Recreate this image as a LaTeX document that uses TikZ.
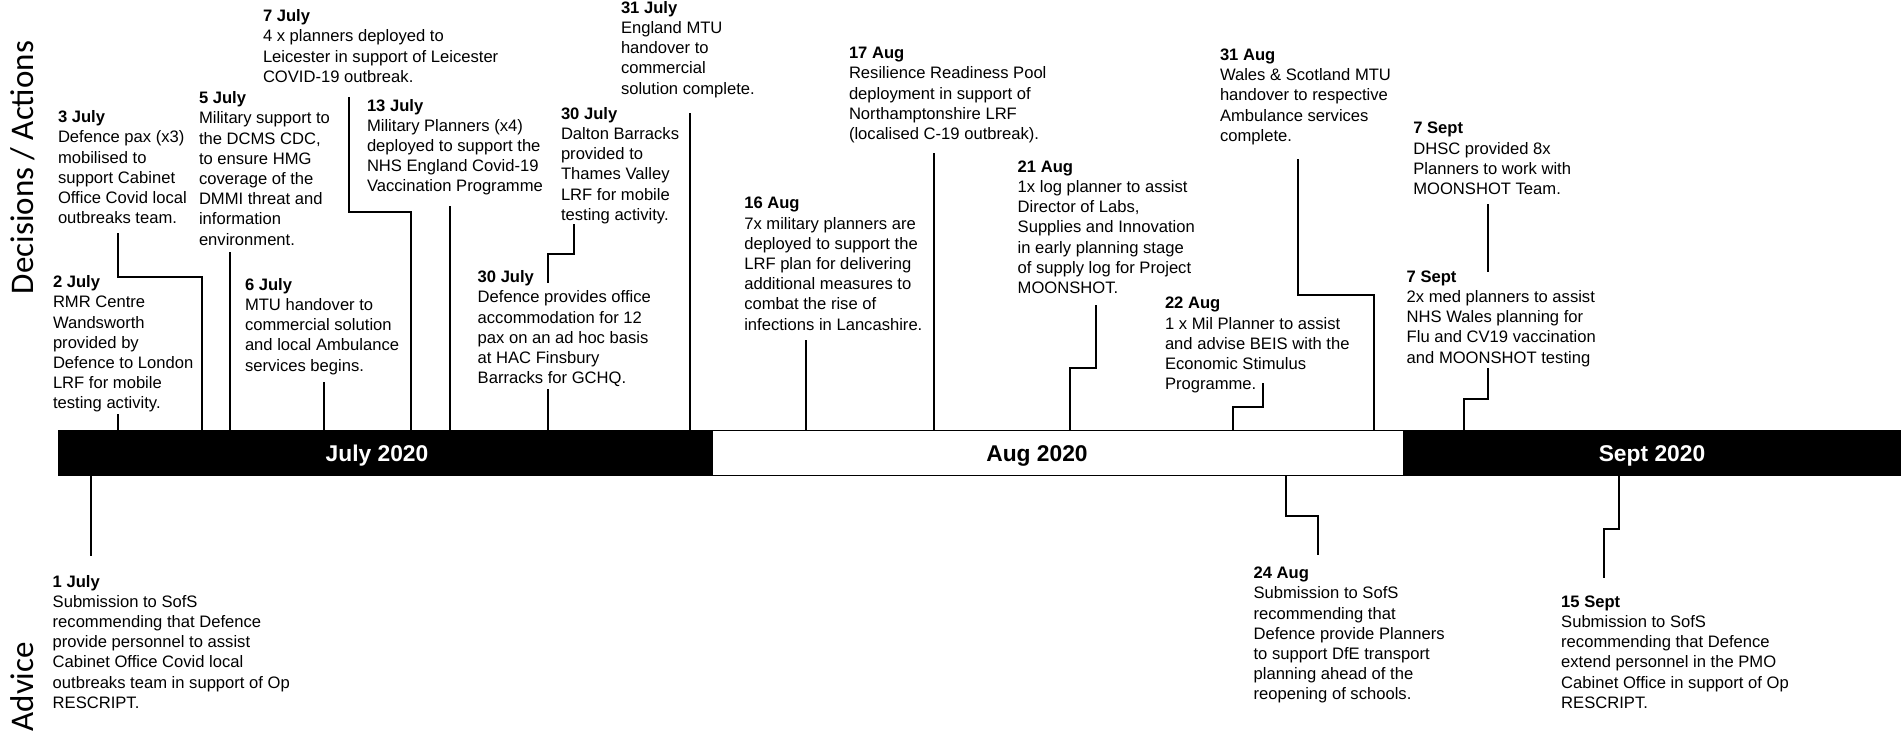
\documentclass[tikz,border=0pt]{standalone}
\usepackage{fontspec}
\setmainfont{Liberation Sans}
\newfontfamily\sidefont{Carlito}
\begin{document}
\begin{tikzpicture}[x=1pt,y=-1pt,
  evt/.style={anchor=north west,inner sep=0pt,outer sep=0pt,align=left,font=\fontsize{16.6}{20.2}\selectfont},
  conn/.style={line width=1.1pt,draw=black},
  month/.style={anchor=base,inner sep=0pt,font=\fontsize{22.8}{26}\selectfont\bfseries},
  side/.style={anchor=base,rotate=90,inner sep=0pt,font=\sidefont\fontsize{33}{40}\selectfont},
  barblk/.style={fill=black,draw=none,inner sep=0pt,outer sep=0pt,anchor=north west}]
\useasboundingbox (0,0) rectangle (1901,734);

% timeline bar
\node[barblk,minimum width=654pt,minimum height=46.5pt] (julybar) at (58,429.5) {};
\node[barblk,minimum width=498pt,minimum height=46.5pt] (septbar) at (1403,429.5) {};
\node[fill=white,draw=black,line width=1pt,inner sep=0pt,outer sep=0pt,anchor=north west,
      minimum width=691pt,minimum height=45.5pt] (augbar) at (712,430) {};

\node[month,text=white] (jul) at (377,461.7) {July 2020};
\node[month] (aug) at (1037,461.5) {Aug 2020};
\node[month,text=white] (sep) at (1652,461.7) {Sept 2020};

% side labels
\node[side] (da) at (34,167.5) {Decisions / Actions};
\node[side] (adv) at (33.5,686.7) {Advice};

% events above
\node[evt] (e1) at (263,9.7) {\textbf{7 July}\\4 x planners deployed to\\Leicester in support of Leicester\\COVID-19 outbreak.};
\node[evt] (e2) at (199,91.7) {\textbf{5 July}\\Military support to\\the DCMS CDC,\\to ensure HMG\\coverage of the\\DMMI threat and\\information\\environment.};
\node[evt] (e3) at (58,110.7) {\textbf{3 July}\\Defence pax (x3)\\mobilised to\\support Cabinet\\Office Covid local\\outbreaks team.};
\node[evt] (e4) at (367,99) {\textbf{13 July}\\Military Planners (x4)\\deployed to support the\\NHS England Covid-19\\Vaccination Programme};
\node[evt] (e5) at (53,275.7) {\textbf{2 July}\\RMR Centre\\Wandsworth\\provided by\\Defence to London\\LRF for mobile\\testing activity.};
\node[evt] (e6) at (245,278.3) {\textbf{6 July}\\MTU handover to\\commercial solution\\and local Ambulance\\services begins.};
\node[evt] (e7) at (621,1.3) {\textbf{31 July}\\England MTU\\handover to\\commercial\\solution complete.};
\node[evt] (e8) at (561,107.3) {\textbf{30 July}\\Dalton Barracks\\provided to\\Thames Valley\\LRF for mobile\\testing activity.};
\node[evt] (e9) at (477.7,270.7) {\textbf{30 July}\\Defence provides office\\accommodation for 12\\pax on an ad hoc basis\\at HAC Finsbury\\Barracks for GCHQ.};
\node[evt] (e10) at (744.3,197.3) {\textbf{16 Aug}\\7x military planners are\\deployed to support the\\LRF plan for delivering\\additional measures to\\combat the rise of\\infections in Lancashire.};
\node[evt] (e11) at (849,47.3) {\textbf{17 Aug}\\Resilience Readiness Pool\\deployment in support of\\Northamptonshire LRF\\(localised C-19 outbreak).};
\node[evt] (e12) at (1220,49) {\textbf{31 Aug}\\Wales \& Scotland MTU\\handover to respective\\Ambulance services\\complete.};
\node[evt] (e13) at (1017.7,160.7) {\textbf{21 Aug}\\1x log planner to assist\\Director of Labs,\\Supplies and Innovation\\in early planning stage\\of supply log for Project\\MOONSHOT.};
\node[evt] (e14) at (1165,297.3) {\textbf{22 Aug}\\1 x Mil Planner to assist\\and advise BEIS with the\\Economic Stimulus\\Programme.};
\node[evt] (e15) at (1413.3,122.3) {\textbf{7 Sept}\\DHSC provided 8x\\Planners to work with\\MOONSHOT Team.};
\node[evt] (e16) at (1406.7,270.7) {\textbf{7 Sept}\\2x med planners to assist\\NHS Wales planning for\\Flu and CV19 vaccination\\and MOONSHOT testing};

% events below
\node[evt] (e17) at (52.7,575) {\textbf{1 July}\\Submission to SofS\\recommending that Defence\\provide personnel to assist\\Cabinet Office Covid local\\outbreaks team in support of Op\\RESCRIPT.};
\node[evt] (e18) at (1253.6,567) {\textbf{24 Aug}\\Submission to SofS\\recommending that\\Defence provide Planners\\to support DfE transport\\planning ahead of the\\reopening of schools.};
\node[evt] (e19) at (1561.2,595.7) {\textbf{15 Sept}\\Submission to SofS\\recommending that Defence\\extend personnel in the PMO\\Cabinet Office in support of Op\\RESCRIPT.};

% connector points
\coordinate (c1) at (349,97);   \coordinate (c1e) at (411,212);
\coordinate (c2) at (230,252);
\coordinate (c3) at (118,233);  \coordinate (c3e) at (202,277);
\coordinate (c4) at (450,206);
\coordinate (c5) at (118,414);
\coordinate (c6) at (324,382);
\coordinate (c7) at (690,113);
\coordinate (c8) at (574,224);  \coordinate (c8e) at (548,254); \coordinate (c8f) at (548,283);
\coordinate (c9) at (548,389);
\coordinate (c10) at (806,340);
\coordinate (c11) at (934,153);
\coordinate (c12) at (1298,159); \coordinate (c12e) at (1374,295);
\coordinate (c13) at (1096,305); \coordinate (c13e) at (1070,368);
\coordinate (c14) at (1263,383); \coordinate (c14e) at (1233,407);
\coordinate (c15) at (1488,204); \coordinate (c15f) at (1488,272);
\coordinate (c16) at (1488,368); \coordinate (c16e) at (1464,399);
\coordinate (c17) at (91,556);
\coordinate (c18a) at (1286,516); \coordinate (c18) at (1318,555);
\coordinate (c19a) at (1619,529); \coordinate (c19) at (1604,578);

% connectors above
\draw[conn] (c1) |- (c1e) -- (c1e |- julybar.north);
\draw[conn] (c2) -- (c2 |- julybar.north);
\draw[conn] (c3) |- (c3e) -- (c3e |- julybar.north);
\draw[conn] (c4) -- (c4 |- julybar.north);
\draw[conn] (c5) -- (c5 |- julybar.north);
\draw[conn] (c6) -- (c6 |- julybar.north);
\draw[conn] (c7) -- (c7 |- julybar.north);
\draw[conn] (c8) |- (c8e) -- (c8f);
\draw[conn] (c9) -- (c9 |- julybar.north);
\draw[conn] (c10) -- (c10 |- augbar.north);
\draw[conn] (c11) -- (c11 |- augbar.north);
\draw[conn] (c12) |- (c12e) -- (c12e |- augbar.north);
\draw[conn] (c13) |- (c13e) -- (c13e |- augbar.north);
\draw[conn] (c14) |- (c14e) -- (c14e |- augbar.north);
\draw[conn] (c15) -- (c15f);
\draw[conn] (c16) |- (c16e) -- (c16e |- septbar.north);

% connectors below
\draw[conn] (julybar.south -| c17) -- (c17);
\draw[conn] (augbar.south -| c18a) -- (c18a) -| (c18);
\draw[conn] (septbar.south -| c19a) -- (c19a) -| (c19);
\end{tikzpicture}
\end{document}
